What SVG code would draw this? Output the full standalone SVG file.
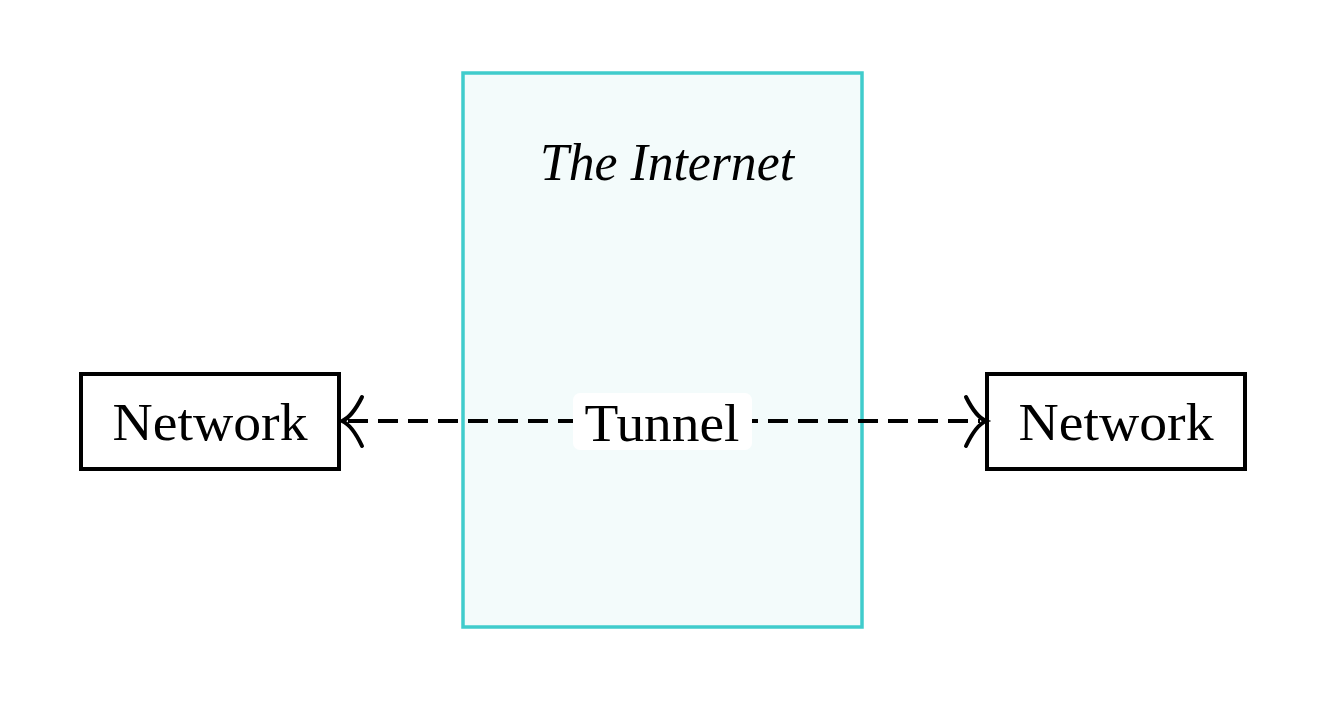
<svg xmlns="http://www.w3.org/2000/svg" width="1323" height="704" viewBox="0 0 1323 704">
<style>
.node{fill:#fff;stroke:#000;stroke-width:4}
.lbl{font-family:"Liberation Serif",serif;font-size:52px;fill:#000;text-anchor:middle}
.conn{fill:none;stroke:#000;stroke-width:4;stroke-dasharray:20 10}
.head{fill:none;stroke:#000;stroke-width:4;stroke-linecap:round}
</style>
<rect width="1323" height="704" fill="#fff"/>
<g id="internet">
<rect x="463" y="73" width="399" height="554" fill="#f3fbfb" stroke="#40cccc" stroke-width="3.5"/>
<text x="667" y="180" class="lbl" font-style="italic" font-size="48" textLength="254" lengthAdjust="spacingAndGlyphs">The Internet</text>
</g>
<g id="network-left">
<rect class="node" x="81" y="374" width="258" height="95"/>
<text class="lbl" x="210" y="440" textLength="195" lengthAdjust="spacingAndGlyphs">Network</text>
</g>
<g id="network-right">
<rect class="node" x="987" y="374" width="258" height="95"/>
<text class="lbl" x="1116" y="440" textLength="195" lengthAdjust="spacingAndGlyphs">Network</text>
</g>
<g id="connectors">
<line class="conn" x1="348" y1="421" x2="980" y2="421"/>
<path class="head" d="M362,397 Q352,417 342,421 Q352,425 362,446"/>
<path class="head" d="M966,397 Q976,417 986,421 Q976,425 966,446"/>
<rect x="573" y="393" width="179" height="57" rx="7" fill="#fff"/>
<text class="lbl" x="662" y="441" font-size="56" textLength="155" lengthAdjust="spacingAndGlyphs">Tunnel</text>
</g>
</svg>
